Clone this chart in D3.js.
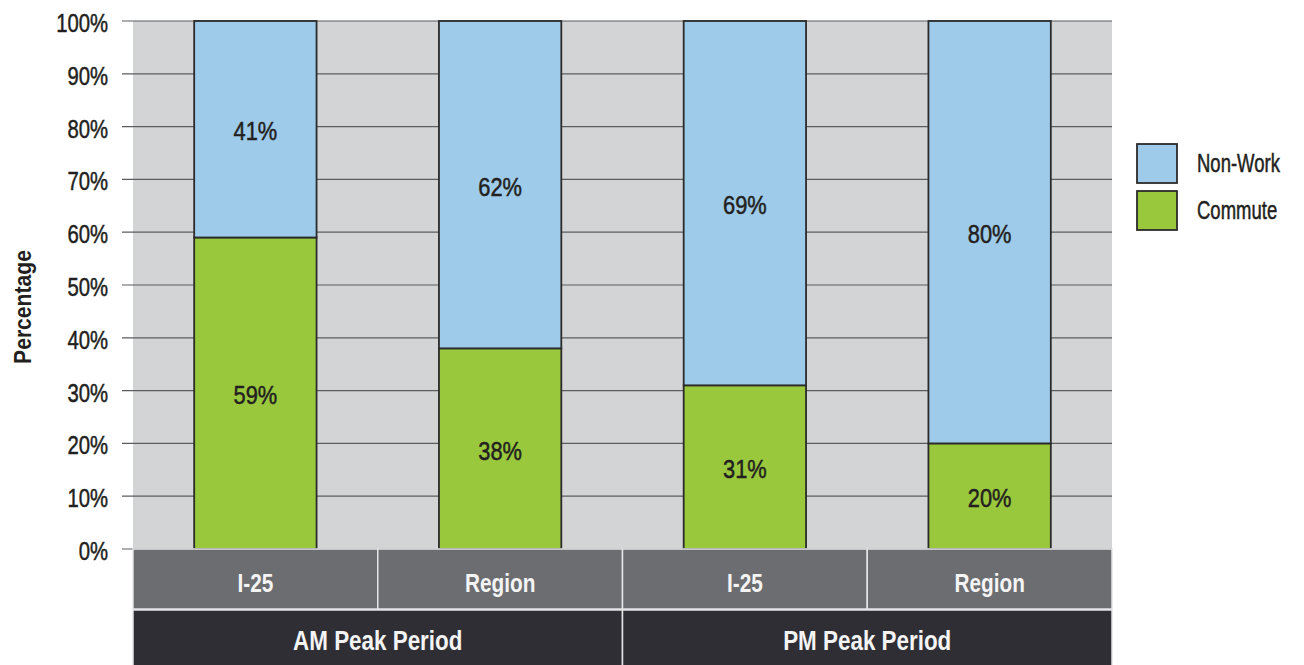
<!DOCTYPE html>
<html>
<head>
<meta charset="utf-8">
<script src="https://cdnjs.cloudflare.com/ajax/libs/d3/7.8.5/d3.min.js"></script>
<style>
body { margin:0; background:#fff; }
text { font-family:"Liberation Sans",Arial,sans-serif; }
</style>
</head>
<body>
<script>
// chart data
var periods = ["AM Peak Period","PM Peak Period"];
var places = ["I-25","Region"];
var commute = [59,38,31,20];
var non_work = [41,62,69,80];
var y_ticks = [0,10,20,30,40,50,60,70,80,90,100];
var series_names = ["Non-Work","Commute"];

var width = 1304, height = 665;
var left = 133, right = 1112, top_y = 21, bottom_y = 549;

var svg = d3.select("body").append("svg")
	.attr("width",width).attr("height",height);

// squeeze text to look like the condensed face of the original
var condense = function(sel,factor)
{
	sel.each(function(){
		var w = this.getComputedTextLength();
		d3.select(this).attr("textLength",w*factor).attr("lengthAdjust","spacingAndGlyphs");
	});
}

var bars = [];
periods.forEach(function(p,i){
	places.forEach(function(pl,j){
		bars.push({"key":p+"|"+pl,"period":p,"place":pl,"commute":commute[i*2+j],"non_work":non_work[i*2+j]});
	});
});

var x = d3.scaleBand().domain(bars.map(function(d){return d.key}))
	.range([left,right]).paddingInner(0.5).paddingOuter(0.25);
var xOuter = d3.scaleBand().domain(periods).range([left,right]);
var y = d3.scaleLinear().domain([0,100]).range([bottom_y,top_y]);

// plot background
svg.append("rect").attr("x",left).attr("y",top_y)
	.attr("width",right-left).attr("height",bottom_y-top_y).attr("fill","#d3d4d6");

// grid lines
svg.selectAll("line.grid").data(y_ticks).enter().append("line")
	.attr("class","grid")
	.attr("x1",left-11).attr("x2",right)
	.attr("y1",function(d){return y(d)}).attr("y2",function(d){return y(d)})
	.attr("stroke","#5b5c5e").attr("stroke-width",1.2);

svg.selectAll("text.ytick").data(y_ticks).enter().append("text")
	.attr("class","ytick")
	.attr("x",108).attr("y",function(d){return y(d)+11})
	.attr("text-anchor","end")
	.attr("font-size",26).attr("fill","#231f20")
	.attr("stroke","#231f20").attr("stroke-width",0.5)
	.text(function(d){return d+"%"})
	.call(condense,0.78);

svg.append("text")
	.attr("transform","translate(31,"+((top_y+bottom_y)/2+22)+") rotate(-90)")
	.attr("text-anchor","middle").attr("font-size",24).attr("font-weight","bold")
	.attr("fill","#231f20").text("Percentage")
	.call(condense,0.88);

// stacked bars
var stack = d3.stack().keys(["commute","non_work"])(bars);
var colors = {"commute":"#9ac83d","non_work":"#9ecbea"};

stack.forEach(function(layer){
	svg.selectAll("rect."+layer.key).data(layer).enter().append("rect")
		.attr("class",layer.key)
		.attr("x",function(d){return x(d.data.key)})
		.attr("width",x.bandwidth())
		.attr("y",function(d){return y(d[1])})
		.attr("height",function(d){return y(d[0])-y(d[1])})
		.attr("fill",colors[layer.key])
		.attr("stroke","#2b2b2b").attr("stroke-width",1.8);
	svg.selectAll("text."+layer.key).data(layer).enter().append("text")
		.attr("class",layer.key)
		.attr("x",function(d){return x(d.data.key)+x.bandwidth()/2})
		.attr("y",function(d){return y((d[0]+d[1])/2)+11})
		.attr("text-anchor","middle")
		.attr("font-size",26).attr("fill","#231f20")
		.attr("stroke","#231f20").attr("stroke-width",0.5)
		.text(function(d){return (d[1]-d[0])+"%"})
		.call(condense,0.84);
});

// category rows
var full_band = d3.scaleBand().domain(bars.map(function(d){return d.key})).range([left,right]);
svg.selectAll("rect.cat").data(bars).enter().append("rect")
	.attr("class","cat")
	.attr("x",function(d){return full_band(d.key)}).attr("y",bottom_y)
	.attr("width",full_band.bandwidth()).attr("height",60)
	.attr("fill","#6c6d71").attr("stroke","#e4e4e6").attr("stroke-width",1.5);
svg.selectAll("text.cat").data(bars).enter().append("text")
	.attr("class","cat")
	.attr("x",function(d){return full_band(d.key)+full_band.bandwidth()/2})
	.attr("y",bottom_y+43).attr("text-anchor","middle")
	.attr("font-size",26).attr("font-weight","bold").attr("fill","#f4f4f4")
	.text(function(d){return d.place})
	.call(condense,0.8);

svg.selectAll("rect.period").data(periods).enter().append("rect")
	.attr("class","period")
	.attr("x",function(d){return xOuter(d)}).attr("y",bottom_y+61)
	.attr("width",xOuter.bandwidth()).attr("height",60)
	.attr("fill","#2f2e34").attr("stroke","#e4e4e6").attr("stroke-width",1.5);
svg.selectAll("text.period").data(periods).enter().append("text")
	.attr("class","period")
	.attr("x",function(d){return xOuter(d)+xOuter.bandwidth()/2})
	.attr("y",bottom_y+101).attr("text-anchor","middle")
	.attr("font-size",27).attr("font-weight","bold").attr("fill","#f4f4f4")
	.text(function(d){return d})
	.call(condense,0.83);

// legend (squeezed with a transform so its box stays inside the page)
var legend = svg.selectAll("g.legend").data(series_names).enter().append("g")
	.attr("class","legend")
	.attr("transform",function(d,i){return "translate(1137,"+(144+i*47)+")"});
legend.append("rect").attr("width",40).attr("height",39)
	.attr("fill",function(d){return d=="Commute"?colors.commute:colors.non_work})
	.attr("stroke","#2b2b2b").attr("stroke-width",1.8);
legend.append("text")
	.attr("transform","translate(60,28) scale(0.74,1)")
	.attr("font-size",25).attr("fill","#231f20")
	.attr("stroke","#231f20").attr("stroke-width",0.5)
	.text(function(d){return d});
</script>
</body>
</html>
